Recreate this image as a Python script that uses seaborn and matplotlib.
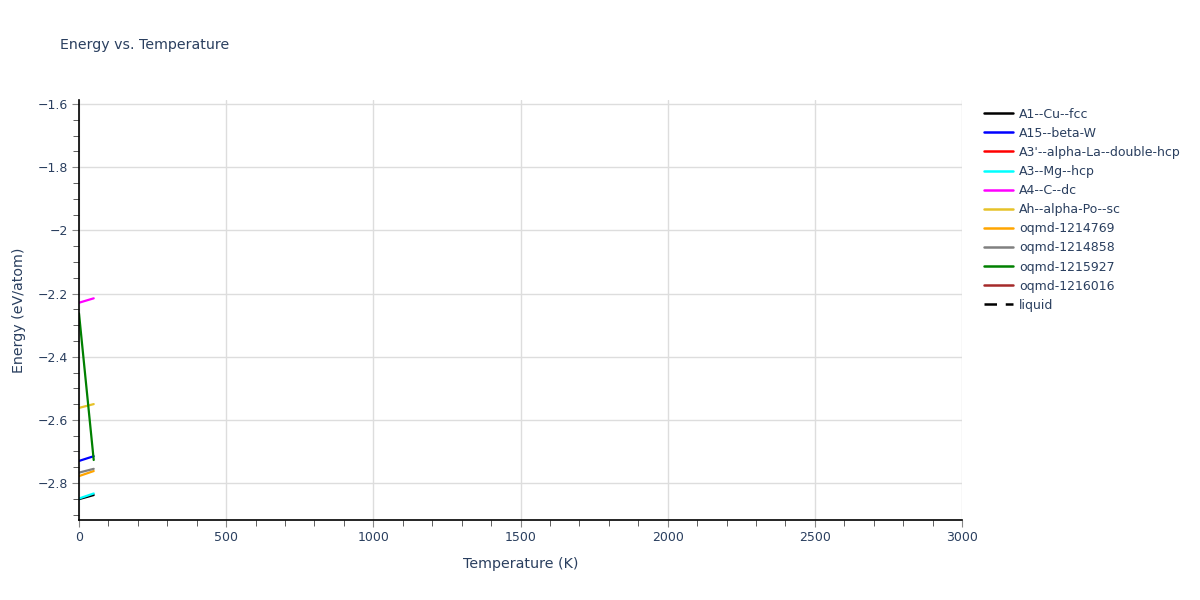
import pandas as pd
import seaborn as sns
import matplotlib.pyplot as plt
from matplotlib.lines import Line2D
from matplotlib.ticker import MultipleLocator, FuncFormatter

# Data (temperature in K, energy in eV/atom)
names = ["A1--Cu--fcc", "A15--beta-W", "A3'--alpha-La--double-hcp", "A3--Mg--hcp",
         "A4--C--dc", "Ah--alpha-Po--sc", "oqmd-1214769", "oqmd-1214858",
         "oqmd-1215927", "oqmd-1216016", "liquid"]
colors = ["black", "blue", "red", "cyan", "magenta", "#e6c229", "orange", "gray",
          "green", "brown", "black"]

temps = [0, 50]
e_a1 = [-2.851, -2.838]
e_a15 = [-2.730, -2.715]
e_a3p = []
e_a3 = [-2.849, -2.833]
e_a4 = [-2.229, -2.215]
e_ah = [-2.562, -2.550]
e_1214769 = [-2.778, -2.762]
e_1214858 = [-2.767, -2.755]
e_1215927 = [-2.263, -2.727]
e_1216016 = []
e_liquid = []

series = [e_a1, e_a15, e_a3p, e_a3, e_a4, e_ah, e_1214769, e_1214858,
          e_1215927, e_1216016, e_liquid]

rows = []
for name, vals in zip(names, series):
    for t, e in zip(temps, vals):
        rows.append({"T": t, "E": e, "phase": name})
df = pd.DataFrame(rows)

sns.set_style("white")
plt.rcParams['font.family'] = ['DejaVu Sans']
text_col = "#2a3f5f"

fig = plt.figure(figsize=(12, 6), dpi=100)
ax = fig.add_axes([79 / 1200, 80 / 600, (962 - 79) / 1200, 420 / 600])

for name, col in zip(names, colors):
    sub = df[df["phase"] == name]
    if len(sub) == 0:
        continue
    sns.lineplot(data=sub, x="T", y="E", color=col, linewidth=1.6, ax=ax,
                 linestyle="--" if name == "liquid" else "-", legend=False)

ax.set_xlim(0, 3000)
ax.set_ylim(-2.917, -1.587)
ax.xaxis.set_major_locator(MultipleLocator(500))
ax.xaxis.set_minor_locator(MultipleLocator(100))
ax.yaxis.set_major_locator(MultipleLocator(0.2))
ax.yaxis.set_minor_locator(MultipleLocator(0.05))
ax.yaxis.set_major_formatter(FuncFormatter(lambda v, p: ("%g" % round(v, 2)).replace("-", "\u2212")))
ax.grid(True, which="major", color="#dddddd", linewidth=1)
ax.set_axisbelow(True)

for s in ["top", "right"]:
    ax.spines[s].set_visible(False)
for s in ["left", "bottom"]:
    ax.spines[s].set_color("black")
    ax.spines[s].set_linewidth(1.2)

ax.tick_params(which="major", direction="out", length=5, color="#888888",
               labelsize=9, labelcolor=text_col, left=True, bottom=True, pad=3)
ax.tick_params(which="minor", direction="out", length=4, color="#444444",
               left=True, bottom=True)

ax.set_xlabel("Temperature (K)", fontsize=10.3, color=text_col, labelpad=9)
ax.set_ylabel("Energy (eV/atom)", fontsize=10.3, color=text_col, labelpad=8)
fig.text(60 / 1200, 1 - 45 / 600, "Energy vs. Temperature", fontsize=10.2,
         color=text_col, va="center", ha="left")

handles = []
for n, c in zip(names, colors):
    if n == "liquid":
        handles.append(Line2D([0], [0], color=c, linewidth=1.8, dashes=(5, 3.5)))
    else:
        handles.append(Line2D([0], [0], color=c, linewidth=1.8))
leg = fig.legend(handles, names, loc="upper left", bbox_to_anchor=(984 / 1200, 1 - 107.5 / 600),
                 frameon=False, fontsize=9, labelcolor=text_col, handlelength=2.3,
                 handletextpad=0.5, labelspacing=0.49, borderaxespad=0,
                 borderpad=0)

fig.savefig("out.png", dpi=100)
